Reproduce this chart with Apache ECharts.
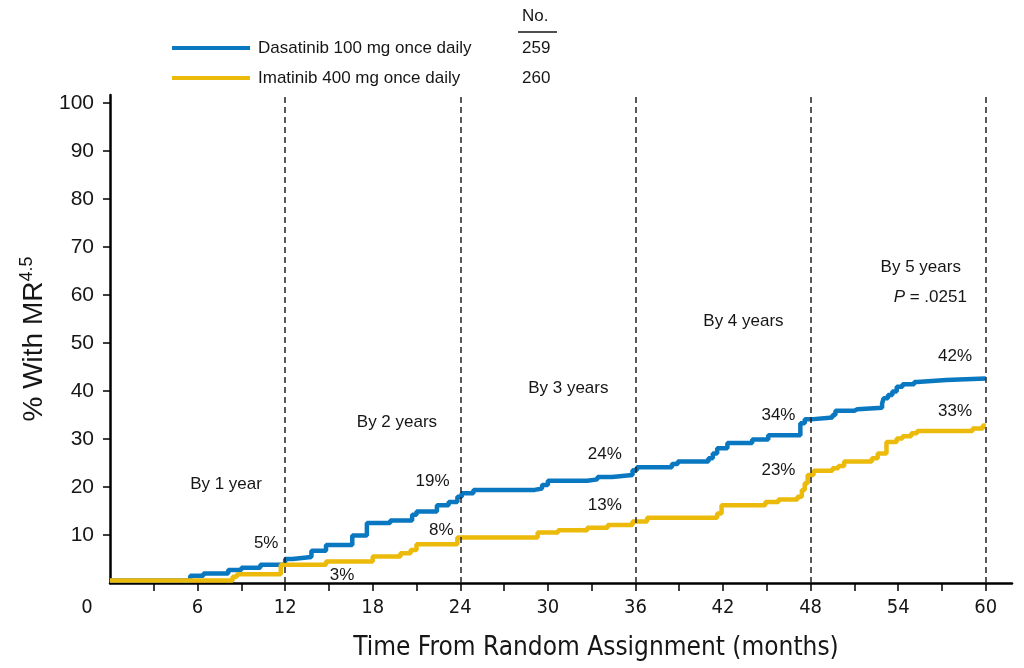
<!DOCTYPE html>
<html><head><meta charset="utf-8">
<script src="https://cdn.jsdelivr.net/npm/echarts@6/dist/echarts.min.js"></script>
<style>html,body{margin:0;padding:0;background:#fff}#c{width:1024px;height:668px}</style>
</head><body><div id="c"></div>
<script>
// ---- data ----
const seriesNames = ['Dasatinib 100 mg once daily', 'Imatinib 400 mg once daily'];
const patientCounts = [259, 260];

const dasatinibMonths = [0, 5.5, 6.4, 8.1, 9.0, 10.3, 12.0, 12.5, 13.8, 14.8, 16.6, 17.6, 19.2, 20.7, 21.0, 22.4, 23.2, 23.8, 24.1, 24.9, 29.1, 29.6, 30.0, 32.7, 33.4, 34.4, 35.8, 36.1, 38.5, 38.9, 41.0, 41.3, 41.6, 42.3, 44.0, 45.1, 47.3, 47.6, 48.0, 49.5, 49.7, 51.0, 51.2, 52.9, 53.0, 53.3, 53.6, 53.9, 54.3, 55.1, 55.3, 57.3, 60];
const dasatinibPct = [0.5, 1.5, 2.0, 2.7, 3.2, 3.8, 5.0, 5.4, 6.7, 7.9, 9.9, 12.5, 13.0, 14.2, 14.9, 16.2, 16.9, 18.0, 18.7, 19.4, 19.7, 20.4, 21.3, 21.6, 22.1, 22.5, 23.5, 24.1, 24.8, 25.3, 26.0, 27.0, 28.1, 29.2, 29.9, 30.8, 33.3, 34.1, 34.5, 35.0, 35.9, 36.2, 36.5, 37.4, 38.5, 39.2, 39.9, 40.9, 41.4, 41.9, 42.3, 42.6, 42.6];

const imatinibMonths = [0, 8.4, 8.7, 11.7, 14.8, 18.0, 19.9, 20.6, 21.0, 23.8, 29.3, 30.7, 32.7, 34.1, 35.8, 36.8, 41.6, 41.9, 44.9, 45.8, 47.1, 47.4, 47.6, 47.8, 48.2, 49.5, 49.9, 50.3, 52.2, 52.6, 53.2, 53.9, 54.3, 54.9, 55.3, 59.1, 59.8, 60];
const imatinibPct = [0.5, 1.3, 1.8, 3.8, 4.5, 5.5, 6.2, 6.9, 8.1, 9.5, 10.5, 11.0, 11.5, 12.1, 12.8, 13.6, 14.5, 16.2, 16.9, 17.4, 18.0, 19.4, 20.8, 22.5, 23.4, 23.9, 24.4, 25.3, 26.0, 27.0, 29.4, 30.1, 30.6, 31.2, 31.7, 32.2, 32.8, 32.8];

const xTickValues = [3, 6, 9, 12, 15, 18, 21, 24, 27, 30, 33, 36, 39, 42, 45, 48, 51, 54, 57, 60];
const xLabelValues = [0, 6, 12, 18, 24, 30, 36, 42, 48, 54, 60];
const yLabelValues = [10, 20, 30, 40, 50, 60, 70, 80, 90, 100];
const milestoneMonths = [12, 24, 36, 48, 60];

const annotationTexts = ['By 1 year', '5%', '3%', 'By 2 years', '19%', '8%', 'By 3 years', '24%', '13%', 'By 4 years', '34%', '23%', 'By 5 years', 'P', '42%', '33%'];
const annotationMonths = [7.95, 10.7, 15.9, 19.66, 22.1, 22.7, 31.4, 33.9, 33.9, 43.4, 45.8, 45.8, 55.55, 56.2, 57.9, 57.9];
const annotationPct = [20.6, 8.3, 1.5, 33.5, 21.25, 11.0, 40.6, 26.9, 16.25, 54.6, 35.0, 23.5, 65.8, 59.6, 47.3, 35.8];
const pValueText = '.0251';

// ---- chart ----
const BLUE = '#0a78c0', YELLOW = '#ebba0a', INK = '#161616';
const SANS = 'Liberation Sans, Arial, sans-serif';
const COND = 'DejaVu Sans Condensed, DejaVu Sans, sans-serif';
const pair = (xs, ys) => xs.map((x, i) => [x, ys[i]]);
const chart = echarts.init(document.getElementById('c'), null, {renderer: 'canvas'});

const annData = annotationTexts.map((t, i) => ({value: [annotationMonths[i], annotationPct[i]], name: t}));

chart.setOption({
  animation: false,
  backgroundColor: '#fff',
  grid: {left: 110, right: 12, top: 95, bottom: 85, containLabel: false, outerBoundsMode: 'none'},
  legend: {
    data: seriesNames,
    orient: 'vertical', left: 172, top: 38, padding: 0,
    icon: 'rect', itemWidth: 78, itemHeight: 4, itemGap: 10,
    textStyle: {
      fontFamily: SANS, fontSize: 17, color: INK, lineHeight: 20,
      rich: {
        n: {fontFamily: SANS, fontSize: 17, color: INK, width: 264, padding: [0, 0, 0, 3]},
        c: {fontFamily: SANS, fontSize: 17, color: INK}
      }
    },
    formatter: name => '{n|' + name + '}{c|' + patientCounts[seriesNames.indexOf(name)] + '}'
  },
  xAxis: {
    type: 'value', min: 0, max: 61.8, interval: 3,
    name: 'Time From Random Assignment (months)', nameLocation: 'middle', nameGap: 52,
    nameMoveOverlap: false,
    nameTextStyle: {fontFamily: COND, fontSize: 26, color: INK, padding: [0, 0, 0, 70]},
    axisLine: {show: true, lineStyle: {color: '#000', width: 2.5}},
    axisTick: {show: true, inside: false, length: 8, lineStyle: {color: '#000', width: 1.5}, customValues: xTickValues},
    axisLabel: {
      customValues: xLabelValues, margin: 15,
      fontFamily: COND, fontSize: 20, color: INK,
      formatter: v => v === 0 ? '{z|0}' : String(v),
      rich: {z: {fontFamily: COND, fontSize: 20, color: INK, padding: [0, 46, 0, 0]}}
    },
    splitLine: {show: false}
  },
  yAxis: {
    type: 'value', min: 0, max: 101.7, interval: 10,
    name: '% With MR{sup|4.5}', nameLocation: 'middle', nameGap: 60, nameRotate: 90,
    nameMoveOverlap: false,
    nameTextStyle: {
      fontFamily: SANS, fontSize: 28, color: INK,
      rich: {sup: {fontFamily: SANS, fontSize: 18, color: INK, verticalAlign: 'top', padding: [0, 0, 14, 0]}}
    },
    axisLine: {show: true, lineStyle: {color: '#000', width: 2.5}},
    axisTick: {show: true, inside: false, length: 7, lineStyle: {color: '#000', width: 1.5}, customValues: yLabelValues},
    axisLabel: {customValues: yLabelValues, margin: 16, fontFamily: SANS, fontSize: 21, color: INK},
    splitLine: {show: false}
  },
  graphic: [
    {type: 'text', left: 522, top: 8, style: {text: 'No.', fontFamily: SANS, fontSize: 17, fill: INK}},
    {type: 'line', shape: {x1: 518, y1: 32, x2: 557, y2: 32}, style: {stroke: INK, lineWidth: 1.5}}
  ],
  series: [
    {
      name: seriesNames[0], type: 'line', step: 'end', showSymbol: false, symbol: 'none',
      data: pair(dasatinibMonths, dasatinibPct),
      lineStyle: {color: BLUE, width: 4.5}, itemStyle: {color: BLUE}, z: 3,
      markLine: {
        silent: true, symbol: 'none', label: {show: false},
        lineStyle: {color: '#222', width: 1.5, type: [6, 4]},
        data: milestoneMonths.map(m => ({xAxis: m}))
      }
    },
    {
      name: seriesNames[1], type: 'line', step: 'end', showSymbol: false, symbol: 'none',
      data: pair(imatinibMonths, imatinibPct),
      lineStyle: {color: YELLOW, width: 4.5}, itemStyle: {color: YELLOW}, z: 4
    },
    {
      name: 'annotations', type: 'scatter', symbolSize: 0, silent: true, z: 5,
      itemStyle: {opacity: 1, color: 'rgba(0,0,0,0)'},
      data: annData,
      label: {
        show: true, position: 'inside',
        fontFamily: SANS, fontSize: 17, color: INK,
        formatter: p => p.name === 'P' ? '{i|P} = ' + pValueText : p.name,
        rich: {i: {fontFamily: SANS, fontSize: 17, color: INK, fontStyle: 'italic'}}
      }
    }
  ]
});
</script></body></html>
